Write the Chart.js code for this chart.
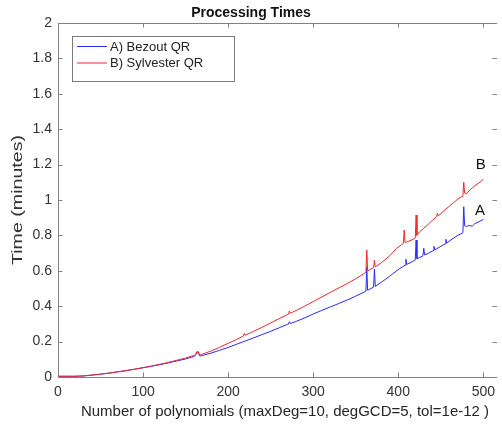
<!DOCTYPE html>
<html><head><meta charset="utf-8">
<script src="https://cdn.jsdelivr.net/npm/chart.js@4"></script>
<style>html,body{margin:0;padding:0;background:#fff}canvas{display:block}</style>
</head><body>
<canvas id="c" width="502" height="424"></canvas>
<script>
const titleText = 'Processing Times';
const xTitle = 'Number of polynomials (maxDeg=10, degGCD=5, tol=1e-12 )';
const yTitle = 'Time (minutes)';
const xTicks = [0, 100, 200, 300, 400, 500];
const yTicks = [0, 0.2, 0.4, 0.6, 0.8, 1, 1.2, 1.4, 1.6, 1.8, 2];
const seriesLabels = ['A) Bezout QR', 'B) Sylvester QR'];

const xA = [0,10,20,30,40,50,60,70,80,90,100,110,120,130,140,150,157,160,162,163,165,166,167,170,180,190,200,210,220,230,240,250,260,270,271,272,273,280,290,300,310,320,330,340,350,360,362,363,364,366,371,372,373,380,390,400,405,408,409,410,415,420,421,422,425,429,430,431,435,441,442,443,450,455,456,457,465,470,476,477,478,480,483,487,490,495,500];
const yA = [0.004,0.004,0.004,0.006,0.011,0.016,0.022,0.029,0.036,0.044,0.052,0.061,0.07,0.08,0.091,0.102,0.112,0.115,0.126,0.14,0.14,0.122,0.118,0.122,0.135,0.151,0.167,0.185,0.203,0.221,0.24,0.258,0.278,0.298,0.299,0.312,0.302,0.314,0.334,0.356,0.376,0.396,0.415,0.435,0.457,0.48,0.485,0.622,0.49,0.495,0.508,0.61,0.512,0.535,0.57,0.607,0.622,0.632,0.665,0.636,0.648,0.662,0.774,0.668,0.675,0.685,0.727,0.69,0.698,0.714,0.738,0.718,0.738,0.752,0.778,0.757,0.785,0.8,0.815,0.962,0.855,0.85,0.856,0.852,0.866,0.878,0.89];

const xB = [0,10,20,30,40,50,60,70,80,90,100,110,120,130,140,150,157,160,162,163,165,166,167,170,180,190,200,210,218,219,220,230,240,250,260,270,271,272,273,280,290,300,310,320,330,340,350,360,362,363,364,366,371,372,373,380,390,398,404,406,407,408,411,415,419,420,421,422,425,430,435,440,445,446,447,455,460,465,470,475,476,477,478,480,485,490,493,496,500];
const yB = [0.004,0.004,0.004,0.006,0.011,0.016,0.022,0.029,0.036,0.044,0.053,0.062,0.072,0.083,0.095,0.107,0.118,0.121,0.13,0.142,0.143,0.13,0.124,0.129,0.147,0.168,0.19,0.212,0.232,0.246,0.236,0.258,0.281,0.305,0.33,0.353,0.355,0.372,0.36,0.376,0.4,0.426,0.452,0.478,0.503,0.528,0.555,0.585,0.592,0.718,0.6,0.605,0.618,0.66,0.622,0.645,0.685,0.727,0.748,0.755,0.83,0.76,0.765,0.772,0.782,0.785,0.915,0.8,0.82,0.84,0.862,0.885,0.905,0.925,0.91,0.945,0.965,0.985,1.005,1.02,1.025,1.1,1.04,1.035,1.06,1.08,1.09,1.1,1.117];

const annText = ['A', 'B'];
const annX = [496, 497];
const annY = [0.94, 1.2];

const FONT = "'Liberation Sans', Arial, Helvetica, sans-serif";
const AXIS = '#808080';
const TXT = '#333333';
const COLORS = ['rgb(40,40,255)', 'rgb(240,40,40)'];

function pts(xs, ys) { return xs.map((x, i) => ({x: x, y: ys[i]})); }

const decor = {
  id: 'decor',
  afterDraw(chart) {
    const ctx = chart.ctx, a = chart.chartArea;
    const sx = chart.scales.x, sy = chart.scales.y;
    ctx.save();
    ctx.strokeStyle = AXIS; ctx.lineWidth = 1;
    ctx.beginPath();
    const top = Math.round(a.top) + 0.5;
    ctx.moveTo(a.left, top); ctx.lineTo(a.right, top);
    const tl = 4.5;
    xTicks.forEach(v => {
      const px = Math.round(sx.getPixelForValue(v)) + 0.5;
      ctx.moveTo(px, a.bottom); ctx.lineTo(px, a.bottom - tl);
      ctx.moveTo(px, a.top); ctx.lineTo(px, a.top + tl);
    });
    yTicks.forEach(v => {
      const py = Math.round(sy.getPixelForValue(v)) + 0.5;
      ctx.moveTo(a.left, py); ctx.lineTo(a.left + tl, py);
      ctx.moveTo(a.right, py); ctx.lineTo(a.right - tl, py);
    });
    ctx.stroke();

    // x axis title
    ctx.font = '15px ' + FONT;
    ctx.fillStyle = '#262626';
    ctx.textAlign = 'center';
    ctx.textBaseline = 'middle';
    ctx.fillText(xTitle, 285, 412);

    // y axis title (stretched lengthwise like the reference)
    ctx.save();
    ctx.translate(18, (a.top + a.bottom) / 2);
    ctx.rotate(-Math.PI / 2);
    ctx.font = '14.5px ' + FONT;
    const w = ctx.measureText(yTitle).width;
    ctx.scale(130 / w, 1);
    ctx.fillStyle = '#333333';
    ctx.textAlign = 'center';
    ctx.textBaseline = 'middle';
    ctx.fillText(yTitle, 0, 0);
    ctx.restore();

    // legend
    const lx = 72.5, ly = 36.5, lw = 162, lh = 45;
    ctx.fillStyle = '#ffffff';
    ctx.fillRect(lx, ly, lw, lh);
    ctx.strokeStyle = '#7a7a7a';
    ctx.strokeRect(lx, ly, lw, lh);
    ctx.font = '13px ' + FONT;
    ctx.textBaseline = 'middle';
    ctx.textAlign = 'left';
    chart.data.datasets.forEach((ds, i) => {
      const yy = ly + 10 + i * 16.5;
      ctx.strokeStyle = ds.borderColor; ctx.lineWidth = 1;
      ctx.beginPath(); ctx.moveTo(77, yy); ctx.lineTo(107, yy); ctx.stroke();
      ctx.fillStyle = '#222222';
      ctx.fillText(ds.label, 110, yy + 0.5);
    });

    // annotations
    ctx.font = '15px ' + FONT;
    ctx.fillStyle = '#111111';
    ctx.textAlign = 'center';
    annText.forEach((t, i) => {
      ctx.fillText(t, sx.getPixelForValue(annX[i]), sy.getPixelForValue(annY[i]));
    });
    ctx.restore();
  }
};

new Chart(document.getElementById('c'), {
  type: 'line',
  data: {
    datasets: [
      {label: seriesLabels[0], data: pts(xA, yA), borderColor: COLORS[0], borderWidth: 1, pointRadius: 0, tension: 0, fill: false, order: 2},
      {label: seriesLabels[1], data: pts(xB, yB), borderColor: COLORS[1], borderWidth: 1, pointRadius: 0, tension: 0, fill: false, order: 1}
    ]
  },
  options: {
    responsive: false,
    animation: false,
    devicePixelRatio: 1,
    layout: {padding: {top: 0, right: 0, left: 0, bottom: 0}},
    plugins: {
      legend: {display: false},
      tooltip: {enabled: false},
      title: {display: true, text: titleText, color: '#111111', font: {family: FONT, size: 14, weight: 'bold'}, padding: {top: 5, bottom: 1.2}}
    },
    scales: {
      x: {
        type: 'linear', min: 0, max: 516,
        afterBuildTicks: s => { s.ticks = xTicks.map(v => ({value: v})); },
        afterFit: s => { s.height = 47; },
        grid: {display: false, drawTicks: false},
        border: {display: true, color: AXIS, width: 1},
        ticks: {color: TXT, font: {family: FONT, size: 14}, padding: 7, maxRotation: 0, autoSkip: false},
        title: {display: false}
      },
      y: {
        type: 'linear', min: 0, max: 2,
        afterBuildTicks: s => { s.ticks = yTicks.map(v => ({value: v})); },
        afterFit: s => { s.width = 58; },
        grid: {display: false, drawTicks: false},
        border: {display: true, color: AXIS, width: 1},
        ticks: {color: TXT, font: {family: FONT, size: 14}, padding: 6, autoSkip: false, callback: v => String(Math.round(v * 10) / 10)},
        title: {display: false}
      }
    }
  },
  plugins: [decor]
});
</script>
</body></html>
